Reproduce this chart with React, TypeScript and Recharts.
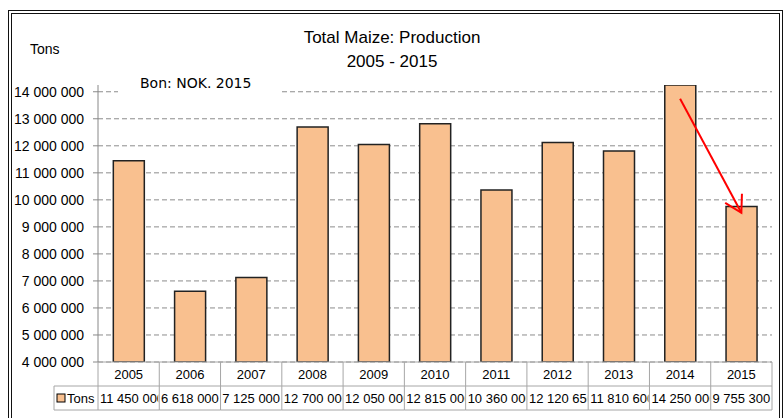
import React from 'react';
import { BarChart, Bar, XAxis, YAxis, CartesianGrid, ReferenceLine } from 'recharts';

const years = ['2005', '2006', '2007', '2008', '2009', '2010', '2011', '2012', '2013', '2014', '2015'];
const tons = [11450000, 6618000, 7125000, 12700000, 12050000, 12815000, 10360000, 12120650, 11810600, 14250000, 9755300];
const yTicks = [4000000, 5000000, 6000000, 7000000, 8000000, 9000000, 10000000, 11000000, 12000000, 13000000, 14000000];
const arrowFrom = { year: '2014', value: 13740000 };
const arrowTo = { year: '2015', value: 9520000 };

const data = years.map((y, i) => ({ year: y, tons: tons[i] }));

const W = 784;
const H = 418;
const PLOT_LEFT = 98;
const PLOT_RIGHT = 772;
const TABLE_TOP = 362;
const ROW = 24;
const BAND = (PLOT_RIGHT - PLOT_LEFT) / years.length;
const FILL = '#f9c08f';
const FONT = '"Liberation Sans", Arial, sans-serif';
const GRID = '#a6a6a6';

const fmt = (v: number) => String(v).replace(/\B(?=(\d{3})+(?!\d))/g, ' ');

function TableTick(props: any) {
    const { x, payload, index } = props;
    const left = x - BAND / 2;
    const right = x + BAND / 2;
    const label = fmt(tons[index]);
    const overflow = label.length > 9;
    const clipId = `cell-clip-${index}`;
    return (
        <g>
            <defs>
                <clipPath id={clipId}>
                    <rect x={left + 1} y={TABLE_TOP + ROW} width={BAND - 2} height={ROW} />
                </clipPath>
            </defs>
            <line x1={left} y1={TABLE_TOP} x2={left} y2={TABLE_TOP + ROW * 2} stroke={GRID} />
            {index === years.length - 1 && (
                <line x1={right} y1={TABLE_TOP} x2={right} y2={TABLE_TOP + ROW * 2} stroke={GRID} />
            )}
            <line x1={left} y1={TABLE_TOP + ROW} x2={right} y2={TABLE_TOP + ROW} stroke={GRID} />
            <line x1={left} y1={TABLE_TOP + ROW * 2} x2={right} y2={TABLE_TOP + ROW * 2} stroke={GRID} />
            <text x={x} y={TABLE_TOP + 17} textAnchor="middle" fontSize={13} fontFamily={FONT} fill="#000">
                {payload.value}
            </text>
            <text
                x={overflow ? left + 2 : x}
                y={TABLE_TOP + ROW + 17}
                textAnchor={overflow ? 'start' : 'middle'}
                fontSize={13}
                fontFamily={FONT}
                fill="#000"
                clipPath={`url(#${clipId})`}
            >
                {label}
            </text>
            {index === 0 && (
                <g>
                    <line x1={54} y1={TABLE_TOP + ROW} x2={left} y2={TABLE_TOP + ROW} stroke={GRID} />
                    <line x1={54} y1={TABLE_TOP + ROW * 2} x2={left} y2={TABLE_TOP + ROW * 2} stroke={GRID} />
                    <line x1={54} y1={TABLE_TOP + ROW} x2={54} y2={TABLE_TOP + ROW * 2} stroke={GRID} />
                    <rect x={57} y={TABLE_TOP + ROW + 8} width={8} height={8} fill={FILL} stroke="#000" />
                    <text x={67} y={TABLE_TOP + ROW + 17} fontSize={13} fontFamily={FONT} fill="#000">Tons</text>
                </g>
            )}
        </g>
    );
}

function Arrow(props: any) {
    const { x1, y1, x2, y2 } = props;
    const ang = Math.atan2(y1 - y2, x1 - x2);
    const len = 19;
    const w1 = { x: x2 + len * Math.cos(ang + Math.PI / 6), y: y2 + len * Math.sin(ang + Math.PI / 6) };
    const w2 = { x: x2 + len * Math.cos(ang - Math.PI / 6), y: y2 + len * Math.sin(ang - Math.PI / 6) };
    return (
        <g stroke="#ff0000" strokeWidth={2} fill="none">
            <line x1={x1} y1={y1} x2={x2} y2={y2} />
            <polyline points={`${w1.x},${w1.y} ${x2},${y2} ${w2.x},${w2.y}`} />
        </g>
    );
}

export default function App() {
    return (
        <div style={{ position: 'fixed', left: 0, top: 0, width: W, height: H, background: '#fff', overflow: 'hidden' }}>
            <div style={{
                position: 'absolute', left: 8, top: 10, width: 767, height: 420,
                border: '4px double #111'
            }} />
            <div style={{ position: 'absolute', left: 0, top: 0 }}>
                <BarChart
                    width={W}
                    height={H}
                    data={data}
                    margin={{ top: 85, right: W - PLOT_RIGHT, bottom: 0, left: 0 }}
                    barCategoryGap="25%"
                >
                    <CartesianGrid vertical={false} horizontalValues={yTicks} stroke="#8c8c8c" strokeDasharray="5 3" />
                    <XAxis
                        dataKey="year"
                        height={H - TABLE_TOP}
                        axisLine={{ stroke: GRID }}
                        tickLine={false}
                        tickSize={0}
                        interval={0}
                        tick={<TableTick />}
                    />
                    <YAxis
                        width={PLOT_LEFT}
                        domain={[4000000, 14250000]}
                        ticks={yTicks}
                        allowDataOverflow
                        tickFormatter={fmt}
                        axisLine={{ stroke: '#888' }}
                        tickLine={{ stroke: '#888' }}
                        tickSize={5}
                        tickMargin={9}
                        tick={{ fill: '#000', fontSize: 14, fontFamily: FONT }}
                    />
                    <Bar dataKey="tons" fill={FILL} stroke="#222" strokeWidth={1.5} isAnimationActive={false} />
                    <ReferenceLine
                        segment={[{ x: arrowFrom.year, y: arrowFrom.value }, { x: arrowTo.year, y: arrowTo.value }]}
                        shape={<Arrow />}
                        ifOverflow="visible"
                    />
                </BarChart>
            </div>
            <div style={{ position: 'absolute', left: 0, width: W, top: 26, textAlign: 'center', fontFamily: FONT, fontSize: 17, lineHeight: '24px', color: '#000' }}>
                Total Maize: Production<br />2005 - 2015
            </div>
            <div style={{ position: 'absolute', left: 30, top: 41, fontFamily: FONT, fontSize: 14, color: '#000' }}>Tons</div>
            <div style={{
                position: 'absolute', left: 118, top: 72, width: 162, height: 24, background: '#fff',
                fontFamily: '"DejaVu Sans", sans-serif', fontSize: 14, lineHeight: '22px', color: '#000',
                paddingLeft: 22, boxSizing: 'border-box'
            }}>
                Bon: NOK. 2015
            </div>
        </div>
    );
}
